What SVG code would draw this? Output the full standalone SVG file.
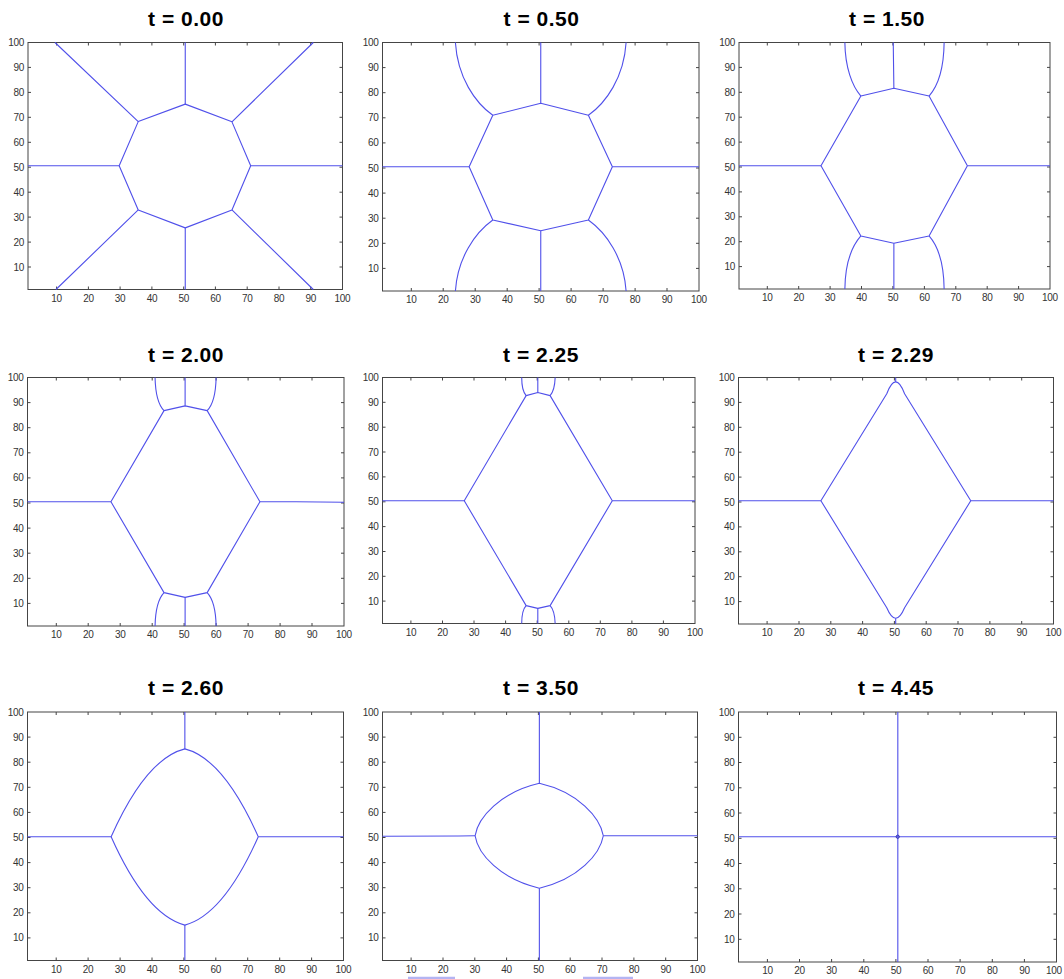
<svg xmlns="http://www.w3.org/2000/svg" width="1064" height="979" viewBox="0 0 1064 979">
<style>
.frame{fill:none;stroke:#454545;stroke-width:1}
.tick{fill:none;stroke:#454545;stroke-width:1}
.c{fill:none;stroke:#5050ea;stroke-width:1.1;vector-effect:non-scaling-stroke;stroke-linejoin:round}
.xl{font-family:"Liberation Sans",Arial,sans-serif;font-size:10px;fill:#333;text-anchor:middle;letter-spacing:-0.3px}
.yl{font-family:"Liberation Sans",Arial,sans-serif;font-size:10px;fill:#333;text-anchor:end;letter-spacing:-0.3px}
.title{font-family:"Liberation Sans",Arial,sans-serif;font-size:21px;font-weight:bold;fill:#000;text-anchor:middle;letter-spacing:0.5px}
</style>
<rect width="1064" height="979" fill="#fff"/>

<!-- Panel 1 -->
<g id="panel-t000">
<text class="title" x="186" y="26">t = 0.00</text>
<rect class="frame" x="28" y="42.5" width="314.5" height="247"/>
<path class="tick" d="M56.6 289.5v-3M88.4 289.5v-3M120.1 289.5v-3M151.9 289.5v-3M183.7 289.5v-3M215.4 289.5v-3M247.2 289.5v-3M279 289.5v-3M310.7 289.5v-3M56.6 42.5v3M88.4 42.5v3M120.1 42.5v3M151.9 42.5v3M183.7 42.5v3M215.4 42.5v3M247.2 42.5v3M279 42.5v3M310.7 42.5v3M28 267h3M28 242.1h3M28 217.1h3M28 192.2h3M28 167.2h3M28 142.3h3M28 117.3h3M28 92.4h3M28 67.4h3M342.5 267h-3M342.5 242.1h-3M342.5 217.1h-3M342.5 192.2h-3M342.5 167.2h-3M342.5 142.3h-3M342.5 117.3h-3M342.5 92.4h-3M342.5 67.4h-3"/>
<text class="xl" y="301.5"><tspan x="56.6">10</tspan><tspan x="88.4">20</tspan><tspan x="120.1">30</tspan><tspan x="151.9">40</tspan><tspan x="183.7">50</tspan><tspan x="215.4">60</tspan><tspan x="247.2">70</tspan><tspan x="279">80</tspan><tspan x="310.7">90</tspan><tspan x="342.5">100</tspan></text>
<text class="yl"><tspan x="24" y="270.5">10</tspan><tspan x="24" y="245.6">20</tspan><tspan x="24" y="220.6">30</tspan><tspan x="24" y="195.7">40</tspan><tspan x="24" y="170.7">50</tspan><tspan x="24" y="145.8">60</tspan><tspan x="24" y="120.8">70</tspan><tspan x="24" y="95.9">80</tspan><tspan x="24" y="70.9">90</tspan><tspan x="24" y="46">100</tspan></text>
<g transform="matrix(3.1768 0 0 -2.4949 24.823 291.995)">
<path class="c" d="M50.5 75.3L65.2 68.2L71.1 50.6L65.2 32.9L50.5 25.7L35.7 32.9L29.7 50.6L35.7 68.3Z"/>
<path class="c" d="M50.5 75.3V100M35.7 68.3L9.5 100M65.2 68.2L90.8 100M29.7 50.6H1M71.1 50.6H100M35.7 32.9L9.8 1M50.5 25.7V1M65.2 32.9L90.8 1"/>
</g>
</g>

<!-- Panel 2 -->
<g id="panel-t050">
<text class="title" x="541.5" y="26">t = 0.50</text>
<rect class="frame" x="382.5" y="42.5" width="316.5" height="248.5"/>
<path class="tick" d="M411.3 291v-3M443.2 291v-3M475.2 291v-3M507.2 291v-3M539.1 291v-3M571.1 291v-3M603.1 291v-3M635.1 291v-3M667 291v-3M411.3 42.5v3M443.2 42.5v3M475.2 42.5v3M507.2 42.5v3M539.1 42.5v3M571.1 42.5v3M603.1 42.5v3M635.1 42.5v3M667 42.5v3M382.5 268.4h3M382.5 243.3h3M382.5 218.2h3M382.5 193.1h3M382.5 168h3M382.5 142.9h3M382.5 117.8h3M382.5 92.7h3M382.5 67.6h3M699 268.4h-3M699 243.3h-3M699 218.2h-3M699 193.1h-3M699 168h-3M699 142.9h-3M699 117.8h-3M699 92.7h-3M699 67.6h-3"/>
<text class="xl" y="303"><tspan x="411.3">10</tspan><tspan x="443.2">20</tspan><tspan x="475.2">30</tspan><tspan x="507.2">40</tspan><tspan x="539.1">50</tspan><tspan x="571.1">60</tspan><tspan x="603.1">70</tspan><tspan x="635.1">80</tspan><tspan x="667">90</tspan><tspan x="699">100</tspan></text>
<text class="yl"><tspan x="378.5" y="271.9">10</tspan><tspan x="378.5" y="246.8">20</tspan><tspan x="378.5" y="221.7">30</tspan><tspan x="378.5" y="196.6">40</tspan><tspan x="378.5" y="171.5">50</tspan><tspan x="378.5" y="146.4">60</tspan><tspan x="378.5" y="121.3">70</tspan><tspan x="378.5" y="96.2">80</tspan><tspan x="378.5" y="71.1">90</tspan><tspan x="378.5" y="46">100</tspan></text>
<g transform="matrix(3.197 0 0 -2.5101 379.303 293.51)">
<path class="c" d="M50.5 75.8L65.4 71L72.9 50.5L65.4 29.3L50.5 25L35.5 29.3L28.1 50.5L35.5 71Z"/>
<path class="c" d="M50.5 75.8V100M50.5 25V1M28.1 50.5H1M72.9 50.5H100"/>
<path class="c" d="M35.5 71C30 76 24.5 86 23.8 100M65.4 71C70.9 76 76.5 86 77.2 100M35.5 29.3C30 24.3 24.5 14.3 23.8 1M65.4 29.3C70.9 24.3 76.5 14.3 77.2 1"/>
</g>
</g>

<!-- Panel 3 -->
<g id="panel-t150">
<text class="title" x="887" y="26">t = 1.50</text>
<rect class="frame" x="739" y="42.5" width="311" height="246.5"/>
<path class="tick" d="M767.3 289v-3M798.7 289v-3M830.1 289v-3M861.5 289v-3M892.9 289v-3M924.4 289v-3M955.8 289v-3M987.2 289v-3M1018.6 289v-3M767.3 42.5v3M798.7 42.5v3M830.1 42.5v3M861.5 42.5v3M892.9 42.5v3M924.4 42.5v3M955.8 42.5v3M987.2 42.5v3M1018.6 42.5v3M739 266.6h3M739 241.7h3M739 216.8h3M739 191.9h3M739 167h3M739 142.1h3M739 117.2h3M739 92.3h3M739 67.4h3M1050 266.6h-3M1050 241.7h-3M1050 216.8h-3M1050 191.9h-3M1050 167h-3M1050 142.1h-3M1050 117.2h-3M1050 92.3h-3M1050 67.4h-3"/>
<text class="xl" y="301"><tspan x="767.3">10</tspan><tspan x="798.7">20</tspan><tspan x="830.1">30</tspan><tspan x="861.5">40</tspan><tspan x="892.9">50</tspan><tspan x="924.4">60</tspan><tspan x="955.8">70</tspan><tspan x="987.2">80</tspan><tspan x="1018.6">90</tspan><tspan x="1050">100</tspan></text>
<text class="yl"><tspan x="735" y="270.1">10</tspan><tspan x="735" y="245.2">20</tspan><tspan x="735" y="220.3">30</tspan><tspan x="735" y="195.4">40</tspan><tspan x="735" y="170.5">50</tspan><tspan x="735" y="145.6">60</tspan><tspan x="735" y="120.7">70</tspan><tspan x="735" y="95.8">80</tspan><tspan x="735" y="70.9">90</tspan><tspan x="735" y="46">100</tspan></text>
<g transform="matrix(3.1414 0 0 -2.4899 735.859 291.49)">
<path class="c" d="M50.3 81.6L61.5 78.5L73.7 50.5L61.5 22.3L50.3 19.4L39.8 22.3L27.1 50.5L39.8 78.5Z"/>
<path class="c" d="M50.3 81.6L50.1 100M50.3 19.4V1M27.1 50.5H1M73.7 50.5H100"/>
<path class="c" d="M39.8 78.5C37 82.5 34.8 90 34.7 100M61.5 78.5C64.3 82.5 66.2 90 66.3 100M39.8 22.3C37 18.3 34.8 11 34.7 1M61.5 22.3C64.3 18.3 66.2 11 66.3 1"/>
</g>
</g>

<!-- Panel 4 -->
<g id="panel-t200">
<text class="title" x="186" y="361.5">t = 2.00</text>
<rect class="frame" x="27.5" y="377.5" width="316.5" height="248.5"/>
<path class="tick" d="M56.3 626v-3M88.2 626v-3M120.2 626v-3M152.2 626v-3M184.1 626v-3M216.1 626v-3M248.1 626v-3M280.1 626v-3M312 626v-3M56.3 377.5v3M88.2 377.5v3M120.2 377.5v3M152.2 377.5v3M184.1 377.5v3M216.1 377.5v3M248.1 377.5v3M280.1 377.5v3M312 377.5v3M27.5 603.4h3M27.5 578.3h3M27.5 553.2h3M27.5 528.1h3M27.5 503h3M27.5 477.9h3M27.5 452.8h3M27.5 427.7h3M27.5 402.6h3M344 603.4h-3M344 578.3h-3M344 553.2h-3M344 528.1h-3M344 503h-3M344 477.9h-3M344 452.8h-3M344 427.7h-3M344 402.6h-3"/>
<text class="xl" y="638"><tspan x="56.3">10</tspan><tspan x="88.2">20</tspan><tspan x="120.2">30</tspan><tspan x="152.2">40</tspan><tspan x="184.1">50</tspan><tspan x="216.1">60</tspan><tspan x="248.1">70</tspan><tspan x="280.1">80</tspan><tspan x="312">90</tspan><tspan x="344">100</tspan></text>
<text class="yl"><tspan x="23.5" y="606.9">10</tspan><tspan x="23.5" y="581.8">20</tspan><tspan x="23.5" y="556.7">30</tspan><tspan x="23.5" y="531.6">40</tspan><tspan x="23.5" y="506.5">50</tspan><tspan x="23.5" y="481.4">60</tspan><tspan x="23.5" y="456.3">70</tspan><tspan x="23.5" y="431.2">80</tspan><tspan x="23.5" y="406.1">90</tspan><tspan x="23.5" y="381">100</tspan></text>
<g transform="matrix(3.197 0 0 -2.5101 24.303 628.51)">
<path class="c" d="M50.3 88.7L57.2 86.8L73.7 50.5L57.2 14.3L50.3 12.4L43.7 14.3L27.1 50.5L43.7 86.8Z"/>
<path class="c" d="M50.3 88.7V100M50.3 12.4V1M27.1 50.5H1M73.7 50.5L85 50.5L100 50.3"/>
<path class="c" d="M43.7 86.8C42 89 41 94 40.9 100M57.2 86.8C58.9 89 59.9 94 60 100M43.7 14.3C42 12 41 7 40.9 1M57.2 14.3C58.9 12 59.9 7 60 1"/>
</g>
</g>

<!-- Panel 5 -->
<g id="panel-t225">
<text class="title" x="541" y="361.5">t = 2.25</text>
<rect class="frame" x="382.5" y="377.5" width="312.5" height="246"/>
<path class="tick" d="M410.9 623.5v-3M442.5 623.5v-3M474 623.5v-3M505.6 623.5v-3M537.2 623.5v-3M568.8 623.5v-3M600.3 623.5v-3M631.9 623.5v-3M663.4 623.5v-3M410.9 377.5v3M442.5 377.5v3M474 377.5v3M505.6 377.5v3M537.2 377.5v3M568.8 377.5v3M600.3 377.5v3M631.9 377.5v3M663.4 377.5v3M382.5 601.1h3M382.5 576.3h3M382.5 551.5h3M382.5 526.6h3M382.5 501.8h3M382.5 476.9h3M382.5 452h3M382.5 427.2h3M382.5 402.3h3M695 601.1h-3M695 576.3h-3M695 551.5h-3M695 526.6h-3M695 501.8h-3M695 476.9h-3M695 452h-3M695 427.2h-3M695 402.3h-3"/>
<text class="xl" y="635.5"><tspan x="410.9">10</tspan><tspan x="442.5">20</tspan><tspan x="474">30</tspan><tspan x="505.6">40</tspan><tspan x="537.2">50</tspan><tspan x="568.8">60</tspan><tspan x="600.3">70</tspan><tspan x="631.9">80</tspan><tspan x="663.4">90</tspan><tspan x="695">100</tspan></text>
<text class="yl"><tspan x="378.5" y="604.6">10</tspan><tspan x="378.5" y="579.8">20</tspan><tspan x="378.5" y="555">30</tspan><tspan x="378.5" y="530.1">40</tspan><tspan x="378.5" y="505.3">50</tspan><tspan x="378.5" y="480.4">60</tspan><tspan x="378.5" y="455.5">70</tspan><tspan x="378.5" y="430.7">80</tspan><tspan x="378.5" y="405.8">90</tspan><tspan x="378.5" y="381">100</tspan></text>
<g transform="matrix(3.1566 0 0 -2.4848 379.343 625.985)">
<path class="c" d="M50.2 94L54.1 92.7L73.8 50.4L54.1 8.2L50.2 7.1L46.5 8.2L26.9 50.4L46.5 92.7Z"/>
<path class="c" d="M50.2 94V100M50.2 7.1V1M26.9 50.4H1M73.8 50.4H100"/>
<path class="c" d="M46.5 92.7C45.6 94 45.1 96.5 45.1 100M54.1 92.7C55 94 55.6 96.5 55.7 100M46.5 8.2C45.6 7 45.1 4.5 45.1 1M54.1 8.2C55 7 55.6 4.5 55.7 1"/>
</g>
</g>

<!-- Panel 6 -->
<g id="panel-t229">
<text class="title" x="896" y="361.5">t = 2.29</text>
<rect class="frame" x="738.5" y="377.5" width="315" height="246.5"/>
<path class="tick" d="M767.1 624v-3M799 624v-3M830.8 624v-3M862.6 624v-3M894.4 624v-3M926.2 624v-3M958 624v-3M989.9 624v-3M1021.7 624v-3M767.1 377.5v3M799 377.5v3M830.8 377.5v3M862.6 377.5v3M894.4 377.5v3M926.2 377.5v3M958 377.5v3M989.9 377.5v3M1021.7 377.5v3M738.5 601.6h3M738.5 576.7h3M738.5 551.8h3M738.5 526.9h3M738.5 502h3M738.5 477.1h3M738.5 452.2h3M738.5 427.3h3M738.5 402.4h3M1053.5 601.6h-3M1053.5 576.7h-3M1053.5 551.8h-3M1053.5 526.9h-3M1053.5 502h-3M1053.5 477.1h-3M1053.5 452.2h-3M1053.5 427.3h-3M1053.5 402.4h-3"/>
<text class="xl" y="636"><tspan x="767.1">10</tspan><tspan x="799">20</tspan><tspan x="830.8">30</tspan><tspan x="862.6">40</tspan><tspan x="894.4">50</tspan><tspan x="926.2">60</tspan><tspan x="958">70</tspan><tspan x="989.9">80</tspan><tspan x="1021.7">90</tspan><tspan x="1053.5">100</tspan></text>
<text class="yl"><tspan x="734.5" y="605.1">10</tspan><tspan x="734.5" y="580.2">20</tspan><tspan x="734.5" y="555.3">30</tspan><tspan x="734.5" y="530.4">40</tspan><tspan x="734.5" y="505.5">50</tspan><tspan x="734.5" y="480.6">60</tspan><tspan x="734.5" y="455.7">70</tspan><tspan x="734.5" y="430.8">80</tspan><tspan x="734.5" y="405.9">90</tspan><tspan x="734.5" y="381">100</tspan></text>
<g transform="matrix(3.1818 0 0 -2.4899 735.318 626.49)">
<path class="c" d="M26.9 50.5L47.6 93.5Q50.4 103 53.2 93.5L74 50.5L53.2 7.5Q50.4 -0.9 47.6 7.5Z"/>
<path class="c" d="M50.4 98.2V100M50.4 3.3V1M26.9 50.5H1M74 50.5H100"/>
</g>
</g>

<!-- Panel 7 -->
<g id="panel-t260">
<text class="title" x="186" y="695">t = 2.60</text>
<rect class="frame" x="27.5" y="712" width="316" height="248.5"/>
<path class="tick" d="M56.2 960.5v-3M88.1 960.5v-3M120.1 960.5v-3M152 960.5v-3M183.9 960.5v-3M215.8 960.5v-3M247.7 960.5v-3M279.7 960.5v-3M311.6 960.5v-3M56.2 712v3M88.1 712v3M120.1 712v3M152 712v3M183.9 712v3M215.8 712v3M247.7 712v3M279.7 712v3M311.6 712v3M27.5 937.9h3M27.5 912.8h3M27.5 887.7h3M27.5 862.6h3M27.5 837.5h3M27.5 812.4h3M27.5 787.3h3M27.5 762.2h3M27.5 737.1h3M343.5 937.9h-3M343.5 912.8h-3M343.5 887.7h-3M343.5 862.6h-3M343.5 837.5h-3M343.5 812.4h-3M343.5 787.3h-3M343.5 762.2h-3M343.5 737.1h-3"/>
<text class="xl" y="972.5"><tspan x="56.2">10</tspan><tspan x="88.1">20</tspan><tspan x="120.1">30</tspan><tspan x="152">40</tspan><tspan x="183.9">50</tspan><tspan x="215.8">60</tspan><tspan x="247.7">70</tspan><tspan x="279.7">80</tspan><tspan x="311.6">90</tspan><tspan x="343.5">100</tspan></text>
<text class="yl"><tspan x="23.5" y="941.4">10</tspan><tspan x="23.5" y="916.3">20</tspan><tspan x="23.5" y="891.2">30</tspan><tspan x="23.5" y="866.1">40</tspan><tspan x="23.5" y="841">50</tspan><tspan x="23.5" y="815.9">60</tspan><tspan x="23.5" y="790.8">70</tspan><tspan x="23.5" y="765.7">80</tspan><tspan x="23.5" y="740.6">90</tspan><tspan x="23.5" y="715.5">100</tspan></text>
<g transform="matrix(3.1919 0 0 -2.5101 24.308 963.01)">
<path class="c" d="M27.2 50.3C32 64 40 82 50.3 85.3C60.6 82 68.5 64 73.3 50.3C68.5 36.6 60.6 18.6 50.3 15.1C40 18.6 32 36.6 27.2 50.3Z"/>
<path class="c" d="M50.3 85.3V100M50.3 15.1V1M27.2 50.3H1M73.3 50.3H100"/>
</g>
</g>

<!-- Panel 8 -->
<g id="panel-t350">
<text class="title" x="541" y="695">t = 3.50</text>
<rect class="frame" x="382.5" y="712" width="315" height="248.5"/>
<path class="tick" d="M411.1 960.5v-3M443 960.5v-3M474.8 960.5v-3M506.6 960.5v-3M538.4 960.5v-3M570.2 960.5v-3M602 960.5v-3M633.9 960.5v-3M665.7 960.5v-3M411.1 712v3M443 712v3M474.8 712v3M506.6 712v3M538.4 712v3M570.2 712v3M602 712v3M633.9 712v3M665.7 712v3M382.5 937.9h3M382.5 912.8h3M382.5 887.7h3M382.5 862.6h3M382.5 837.5h3M382.5 812.4h3M382.5 787.3h3M382.5 762.2h3M382.5 737.1h3M697.5 937.9h-3M697.5 912.8h-3M697.5 887.7h-3M697.5 862.6h-3M697.5 837.5h-3M697.5 812.4h-3M697.5 787.3h-3M697.5 762.2h-3M697.5 737.1h-3"/>
<text class="xl" y="972.5"><tspan x="411.1">10</tspan><tspan x="443">20</tspan><tspan x="474.8">30</tspan><tspan x="506.6">40</tspan><tspan x="538.4">50</tspan><tspan x="570.2">60</tspan><tspan x="602">70</tspan><tspan x="633.9">80</tspan><tspan x="665.7">90</tspan><tspan x="697.5">100</tspan></text>
<text class="yl"><tspan x="378.5" y="941.4">10</tspan><tspan x="378.5" y="916.3">20</tspan><tspan x="378.5" y="891.2">30</tspan><tspan x="378.5" y="866.1">40</tspan><tspan x="378.5" y="841">50</tspan><tspan x="378.5" y="815.9">60</tspan><tspan x="378.5" y="790.8">70</tspan><tspan x="378.5" y="765.7">80</tspan><tspan x="378.5" y="740.6">90</tspan><tspan x="378.5" y="715.5">100</tspan></text>
<g transform="matrix(3.1818 0 0 -2.5101 379.318 963.01)">
<path class="c" d="M30.1 50.7C31 58 38 68 50.3 71.6C62.6 68 69.4 58 70.4 50.7C69.4 43.4 62.6 33.4 50.3 29.8C38 33.4 31 43.4 30.1 50.7Z"/>
<path class="c" d="M50.3 71.6V100M50.3 29.8V1M30.1 50.7L25 50.6L1 50.5M70.4 50.7H100"/>
</g>
<path d="M408 978H455M583 978H633" stroke="#b4b4f2" stroke-width="2.5" fill="none"/>
</g>

<!-- Panel 9 -->
<g id="panel-t445">
<text class="title" x="896" y="695">t = 4.45</text>
<rect class="frame" x="738.5" y="712" width="318" height="250"/>
<path class="tick" d="M767.4 962v-3M799.5 962v-3M831.6 962v-3M863.8 962v-3M895.9 962v-3M928 962v-3M960.1 962v-3M992.3 962v-3M1024.4 962v-3M767.4 712v3M799.5 712v3M831.6 712v3M863.8 712v3M895.9 712v3M928 712v3M960.1 712v3M992.3 712v3M1024.4 712v3M738.5 939.3h3M738.5 914h3M738.5 888.8h3M738.5 863.5h3M738.5 838.3h3M738.5 813h3M738.5 787.8h3M738.5 762.5h3M738.5 737.3h3M1056.5 939.3h-3M1056.5 914h-3M1056.5 888.8h-3M1056.5 863.5h-3M1056.5 838.3h-3M1056.5 813h-3M1056.5 787.8h-3M1056.5 762.5h-3M1056.5 737.3h-3"/>
<text class="xl" y="974"><tspan x="767.4">10</tspan><tspan x="799.5">20</tspan><tspan x="831.6">30</tspan><tspan x="863.8">40</tspan><tspan x="895.9">50</tspan><tspan x="928">60</tspan><tspan x="960.1">70</tspan><tspan x="992.3">80</tspan><tspan x="1024.4">90</tspan><tspan x="1054">100</tspan></text>
<text class="yl"><tspan x="734.5" y="942.8">10</tspan><tspan x="734.5" y="917.5">20</tspan><tspan x="734.5" y="892.3">30</tspan><tspan x="734.5" y="867">40</tspan><tspan x="734.5" y="841.8">50</tspan><tspan x="734.5" y="816.5">60</tspan><tspan x="734.5" y="791.3">70</tspan><tspan x="734.5" y="766">80</tspan><tspan x="734.5" y="740.8">90</tspan><tspan x="734.5" y="715.5">100</tspan></text>
<g transform="matrix(3.2121 0 0 -2.5253 735.288 964.525)">
<path class="c" d="M50.6 1V100M1 50.6H100"/>
</g>
<circle cx="897.7" cy="836.7" r="1.6" fill="none" stroke="#2a2ab0" stroke-width="1"/>
</g>
</svg>
